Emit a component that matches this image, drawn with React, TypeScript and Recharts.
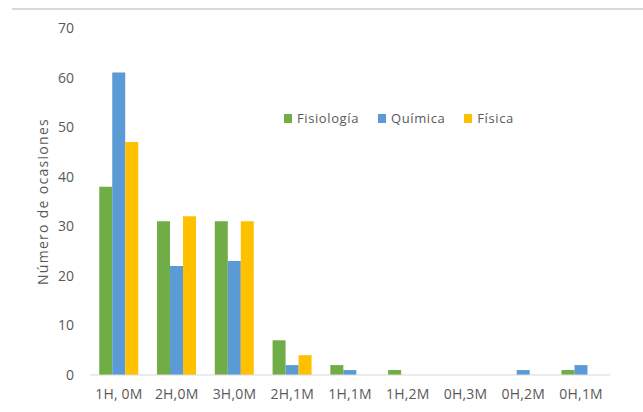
import { Bar, BarChart, Legend, XAxis, YAxis } from "recharts";

const categories = ["1H, 0M", "2H,0M", "3H,0M", "2H,1M", "1H,1M", "1H,2M", "0H,3M", "0H,2M", "0H,1M"];
const fisiologia = [38, 31, 31, 7, 2, 1, 0, 0, 1];
const quimica = [61, 22, 23, 2, 1, 0, 0, 1, 2];
const fisica = [47, 32, 31, 4, 0, 0, 0, 0, 0];
const yTicks = [0, 10, 20, 30, 40, 50, 60, 70];

const series = [
  { key: "fisiologia", name: "Fisiología", color: "#70AD47" },
  { key: "quimica", name: "Química", color: "#5B9BD5" },
  { key: "fisica", name: "Física", color: "#FFC000" }
];

const data = categories.map((c, i) => ({
  name: c,
  fisiologia: fisiologia[i],
  quimica: quimica[i],
  fisica: fisica[i]
}));

const FONT = "'Open Sans', 'Noto Sans', sans-serif";
const TEXT = "#595959";

function LegendContent() {
  return (
    <div style={{ display: "flex", alignItems: "center", fontFamily: FONT, fontSize: 13, color: TEXT, letterSpacing: 0.6, lineHeight: "18px" }}>
      {series.map((s) => (
        <div key={s.key} style={{ display: "flex", alignItems: "center", marginRight: 19 }}>
          <span style={{ width: 8, height: 9, background: s.color, marginRight: 5, display: "inline-block" }} />
          <span>{s.name}</span>
        </div>
      ))}
    </div>
  );
}

export default function App() {
  return (
    <div style={{ position: "absolute", left: 0, top: 0, width: 643, height: 412, background: "#fff" }}>
      <div style={{ position: "absolute", left: 12, top: 8, width: 631, borderTop: "2px solid #d9d9d9" }} />
      <BarChart
        width={643}
        height={412}
        data={data}
        margin={{ top: 28, right: 33, left: 0, bottom: 7 }}
        barCategoryGap="16%"
        barGap={0}
      >
        <XAxis
          dataKey="name"
          axisLine={{ stroke: "#d9d9d9" }}
          tickLine={false}
          tickSize={0}
          tickMargin={14}
          height={30}
          interval={0}
          tick={{ fill: TEXT, fontSize: 14, fontFamily: FONT, letterSpacing: 0.2 }}
        />
        <YAxis
          domain={[0, 70]}
          ticks={yTicks}
          width={90}
          axisLine={false}
          tickLine={false}
          tickSize={0}
          tickMargin={16}
          tick={{ fill: TEXT, fontSize: 14, fontFamily: FONT }}
          label={{
            value: "Número de ocasiones",
            angle: -90,
            position: "insideLeft",
            offset: 43,
            style: { textAnchor: "middle", fill: TEXT, fontSize: 14, fontFamily: FONT, letterSpacing: 1.3 }
          }}
        />
        <Legend
          layout="horizontal"
          verticalAlign="middle"
          content={<LegendContent />}
          wrapperStyle={{ position: "absolute", top: 109, left: 284, width: 300 }}
        />
        {series.map((s) => (
          <Bar key={s.key} dataKey={s.key} name={s.name} fill={s.color} isAnimationActive={false} />
        ))}
      </BarChart>
    </div>
  );
}
